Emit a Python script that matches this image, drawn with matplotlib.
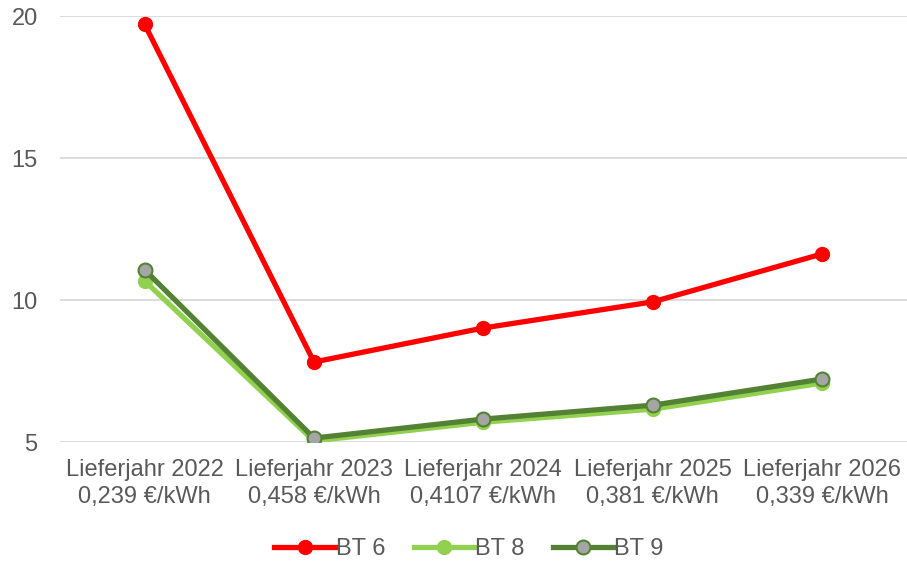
import matplotlib
matplotlib.use("Agg")
import matplotlib.pyplot as plt

plt.rcParams["font.family"] = ["Liberation Sans", "DejaVu Sans"]

categories = [
    "Lieferjahr 2022\n0,239 €/kWh",
    "Lieferjahr 2023\n0,458 €/kWh",
    "Lieferjahr 2024\n0,4107 €/kWh",
    "Lieferjahr 2025\n0,381 €/kWh",
    "Lieferjahr 2026\n0,339 €/kWh",
]
bt6 = [19.72, 7.82, 9.02, 9.94, 11.63]
bt8 = [10.68, 5.04, 5.70, 6.16, 7.08]
bt9 = [11.07, 5.14, 5.81, 6.30, 7.22]

grey = "#595959"

fig = plt.figure(figsize=(9.07, 5.61), dpi=100)
ax = fig.add_axes([0.066, 0.212, 0.934, 0.759])

x = range(len(categories))
ax.plot(x, bt6, color="#FF0000", lw=3.8, marker="o", ms=10,
        mfc="#FF0000", mec="#FF0000", label="BT 6", zorder=3)
ax.plot(x, bt8, color="#92D050", lw=3.8, marker="o", ms=10,
        mfc="#92D050", mec="#92D050", label="BT 8", zorder=4)
ax.plot(x, bt9, color="#548235", lw=3.8, marker="o", ms=10,
        mfc="#A5A5A5", mec="#548235", mew=1.5, label="BT 9", zorder=5)

ax.set_xlim(-0.5, 4.5)
ax.set_ylim(5, 20)
ax.set_yticks([5, 10, 15, 20])
ax.set_xticks(list(x))
ax.set_xticklabels(categories, linespacing=1.3)
ax.yaxis.grid(True, color="#D9D9D9", lw=1.3)
ax.set_axisbelow(True)
for s in ax.spines.values():
    s.set_visible(False)
ax.tick_params(axis="both", length=0, labelsize=17, colors=grey)
ax.tick_params(axis="x", pad=12)
ax.tick_params(axis="y", pad=16)

fig.legend(loc="center", bbox_to_anchor=(0.517, 0.021), ncol=3,
           frameon=False, fontsize=17, labelcolor=grey, handlelength=2.6,
           handletextpad=0.0, columnspacing=1.2, borderpad=0.1)

fig.savefig("out.png", dpi=100)
